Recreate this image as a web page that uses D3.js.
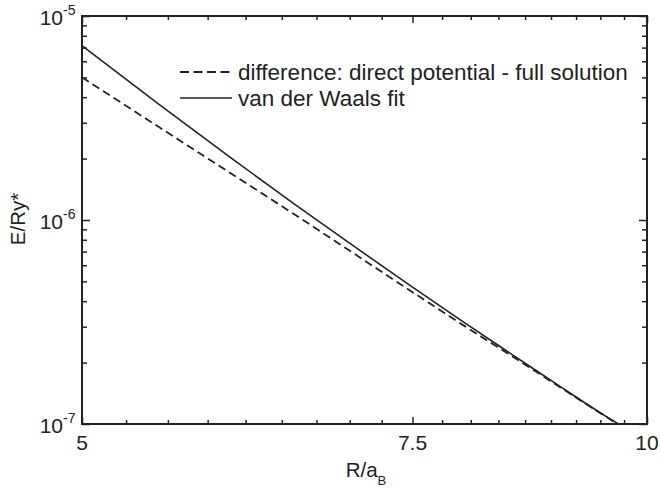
<!DOCTYPE html>
<html><head><meta charset="utf-8">
<script src="https://cdn.jsdelivr.net/npm/d3@7"></script>
<style>
body{margin:0;background:#fff;}
text{font-family:"Liberation Sans",Arial,sans-serif;fill:#222;}
</style></head>
<body><svg id="c" width="660" height="491"></svg>
<script>
// data
const R = [5, 5.5, 6, 6.5, 7, 7.5, 8, 8.5, 9, 9.5, 9.66];
const vdwFit = [7.15e-6, 3.67e-6, 2.02e-6, 1.184e-6, 7.30e-7, 4.69e-7, 3.12e-7, 2.15e-7, 1.515e-7, 1.096e-7, 9.98e-8];
const difference = [5.00e-6, 2.84e-6, 1.696e-6, 1.054e-6, 6.73e-7, 4.43e-7, 3.01e-7, 2.11e-7, 1.503e-7, 1.092e-7, 9.9e-8];
const xMajorTicks = [5, 7.5, 10];
const xTickLabels = ["5", "7.5", "10"];
const yMajorTicks = [1e-7, 1e-6, 1e-5];
const yTickExponents = ["-7", "-6", "-5"];
const legendLabels = ["difference: direct potential - full solution", "van der Waals fit"];

const svg = d3.select("#c");
const L = 82, Rt = 647, T = 16, B = 424;
const col = "#222";
const x = d3.scaleLog().domain([5, 10]).range([L, Rt]);
const y = d3.scaleLog().domain([1e-7, 1e-5]).range([B, T]);

// minor ticks
const xMinor = [];
for (let i = 0; i < 2; i++) for (let k = 1; k < 9; k++) xMinor.push(xMajorTicks[i] + k * 2.5 / 9);
const yMinor = [];
[1e-7, 1e-6].forEach(d => { for (let m = 2; m <= 9; m++) yMinor.push(m * d); });

svg.append("clipPath").attr("id", "clip").append("rect")
  .attr("x", L).attr("y", T).attr("width", Rt - L).attr("height", B - T);

const line = d3.line().x((d, i) => x(R[i])).y(d => y(d)).curve(d3.curveMonotoneX);
const g = svg.append("g").attr("clip-path", "url(#clip)");
g.append("path").datum(vdwFit).attr("d", line).attr("fill", "none")
  .attr("stroke", col).attr("stroke-width", 1.6);
g.append("path").datum(difference).attr("d", line).attr("fill", "none")
  .attr("stroke", col).attr("stroke-width", 1.8).attr("stroke-dasharray", "8,4.5");

// axes with inward ticks
function axisSet(axisFn, scale, vals, size, tr) {
  svg.append("g").attr("transform", tr)
    .call(axisFn(scale).tickValues(vals).tickSize(size).tickFormat(""))
    .call(s => { s.select(".domain").remove(); s.selectAll("line").attr("stroke", col).attr("stroke-width", 1.5); });
}
axisSet(d3.axisTop, x, xMajorTicks, 7, `translate(0,${B})`);
axisSet(d3.axisTop, x, xMinor, 4, `translate(0,${B})`);
axisSet(d3.axisBottom, x, xMajorTicks, 7, `translate(0,${T})`);
axisSet(d3.axisBottom, x, xMinor, 4, `translate(0,${T})`);
axisSet(d3.axisRight, y, yMajorTicks, 8, `translate(${L},0)`);
axisSet(d3.axisRight, y, yMinor, 5, `translate(${L},0)`);
axisSet(d3.axisLeft, y, yMajorTicks, 8, `translate(${Rt},0)`);
axisSet(d3.axisLeft, y, yMinor, 5, `translate(${Rt},0)`);

svg.append("rect").attr("x", L).attr("y", T).attr("width", Rt - L).attr("height", B - T)
  .attr("fill", "none").attr("stroke", col).attr("stroke-width", 2);

// x tick labels
xMajorTicks.forEach((v, i) => {
  svg.append("text").attr("x", x(v)).attr("y", 450).attr("text-anchor", "middle")
    .attr("font-size", 21).text(xTickLabels[i]);
});
// y tick labels
yMajorTicks.forEach((v, i) => {
  svg.append("text").attr("x", 63).attr("y", y(v) + 9).attr("text-anchor", "end").attr("font-size", 21).text("10");
  svg.append("text").attr("x", 63).attr("y", y(v) - 1).attr("font-size", 14).text(yTickExponents[i]);
});

// axis titles
const xt = svg.append("text").attr("x", 366).attr("y", 477).attr("text-anchor", "middle").attr("font-size", 20.5);
xt.append("tspan").text("R/a");
xt.append("tspan").attr("font-size", 13).attr("dy", 8).text("B");
svg.append("text").attr("transform", "translate(25,219) rotate(-90)").attr("text-anchor", "middle")
  .attr("font-size", 20.5).text("E/Ry*");

// legend
const ly = [72, 98];
svg.append("line").attr("x1", 180).attr("x2", 233).attr("y1", ly[0]).attr("y2", ly[0])
  .attr("stroke", col).attr("stroke-width", 1.8).attr("stroke-dasharray", "9,4.5");
svg.append("line").attr("x1", 180).attr("x2", 232).attr("y1", ly[1]).attr("y2", ly[1])
  .attr("stroke", col).attr("stroke-width", 1.6);
legendLabels.forEach((s, i) => {
  svg.append("text").attr("x", 238).attr("y", ly[i] + 7.5).attr("font-size", 22.5).text(s);
});
</script></body></html>
